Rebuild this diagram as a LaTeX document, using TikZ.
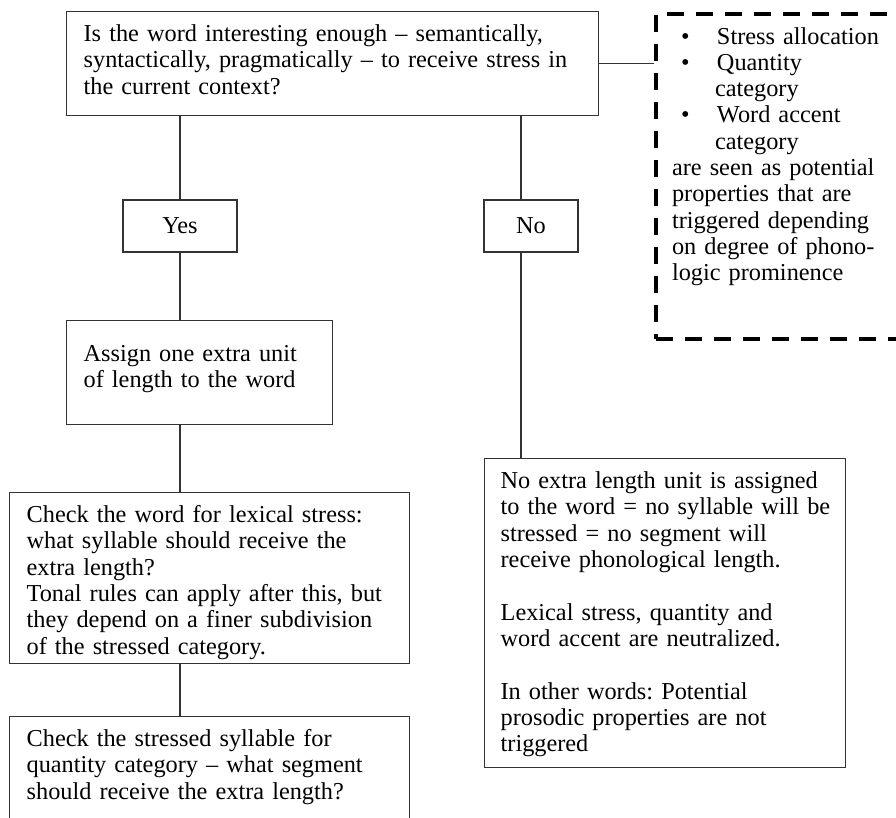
\documentclass[tikz,border=0pt]{standalone}
\usepackage{fontspec}
\setmainfont{Liberation Serif}
\usetikzlibrary{positioning}
\frenchspacing
\newcommand{\listbullet}{\hspace*{9pt}\makebox[36pt][l]{\textbullet}}
\tikzset{text box/.style={rectangle,draw=black!80,line width=1.3pt,align=left,anchor=north west,inner xsep=17pt,inner ysep=12pt,text height=18pt,font=\fontsize{24.3}{26.3}\selectfont},
         answer box/.style={rectangle,draw=black!80,line width=1.3pt,inner sep=0pt,font=\fontsize{24.3}{26.3}\selectfont},
         note box/.style={text box,draw=black,line width=4pt,dash pattern=on 17pt off 12pt,inner xsep=16pt},
         link/.style={draw=black!80,line width=1.3pt}
}
\begin{document}
\begin{tikzpicture}[x=1pt,y=-1pt]
\useasboundingbox (0,0) rectangle (896,817);

\node[text box, text width=498pt, text depth=62pt] (question) at (66,11)
    {Is the word interesting enough -- semantically,\\
     syntactically, pragmatically -- to receive stress in\\
     the current context?};
\node[note box, text width=240pt, text depth=283pt] (note) at (654,12)
    {\listbullet Stress allocation\\
     \listbullet Quantity\\
     \hspace*{43pt}category\\
     \listbullet Word accent\\
     \hspace*{43pt}category\\
     are seen as potential\\
     properties that are\\
     triggered depending\\
     on degree of phono-\\
     logic prominence};

\node[answer box, minimum width=114pt, minimum height=52pt] (yes) at (180,226) {Yes};
\node[answer box, minimum width=94pt, minimum height=52pt] (no) at (531,226) {No};

\node[text box, text width=232pt, text height=29pt, text depth=51pt] (assign) at (66,320)
    {Assign one extra unit\\
     of length to the word};
\node[text box, text width=366pt, text depth=129pt] (lexical) at (9,492)
    {Check the word for lexical stress:\\
     what syllable should receive the\\
     extra length?\\
     Tonal rules can apply after this, but\\
     they depend on a finer subdivision\\
     of the stressed category.};
\node[text box, text width=337pt, inner xsep=12pt, text depth=267pt] (neutral) at (484,458)
    {\hspace*{4pt}No extra length unit is assigned\\
     \hspace*{4pt}to the word = no syllable will be\\
     \hspace*{4pt}stressed = no segment will\\
     \hspace*{4pt}receive phonological length.\\[26.3pt]
     \hspace*{4pt}Lexical stress, quantity and\\
     \hspace*{4pt}word accent are neutralized.\\[26.3pt]
     \hspace*{4pt}In other words: Potential\\
     \hspace*{4pt}prosodic properties are not\\
     \hspace*{4pt}triggered};
\node[text box, text width=366pt, text depth=88pt] (quantity) at (9,716)
    {Check the stressed syllable for\\
     quantity category -- what segment\\
     should receive the extra length?};

% connectors
\draw[link] (question.east) -- (question.east -| note.west);
\draw[link] (yes.north) -- (yes.north |- question.south);
\draw[link] (yes.south) -- (yes.south |- assign.north);
\draw[link] ([xshift=-10pt]no.north) -- ([xshift=-10pt]no.north |- question.south);
\draw[link] ([xshift=-10pt]no.south) -- ([xshift=-10pt]no.south |- neutral.north);
\draw[link] (yes.south |- assign.south) -- (yes.south |- lexical.north);
\draw[link] (yes.south |- lexical.south) -- (yes.south |- quantity.north);
\end{tikzpicture}
\end{document}
